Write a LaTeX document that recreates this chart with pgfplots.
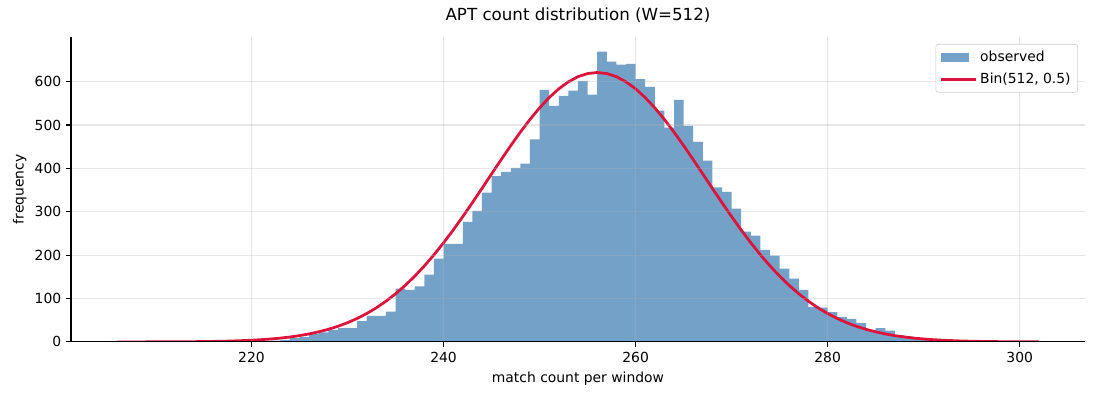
\documentclass[border=0pt]{standalone}
\usepackage{fontspec}
\setmainfont{DejaVu Sans}
\usepackage{pgfplots}
\pgfplotsset{compat=1.18}
\definecolor{barcol}{RGB}{116,161,199}
\definecolor{curvecol}{RGB}{220,20,60}
\definecolor{gridcol}{RGB}{176,176,176}
\definecolor{legcol}{RGB}{204,204,204}
\begin{document}
\begin{tikzpicture}
\path[use as bounding box] (-51.1pt,-41.8pt) rectangle (740.9pt,246.2pt);
\begin{axis}[
  at={(0,0)}, anchor=south west, scale only axis,
  width=730.1pt, height=219.6pt,
  xmin=201.2, xmax=306.8, ymin=0, ymax=703,
  axis x line*=bottom, axis y line*=left,
  axis line style={line width=0.8pt, black},
  xtick={220,240,260,280,300},
  ytick={0,100,200,300,400,500,600},
  tick align=outside, major tick length=3.5pt,
  tick style={line width=0.8pt, black},
  grid=major,
  major grid style={line width=0.8pt, gridcol, opacity=0.3},
  axis on top,
  /pgf/number format/assume math mode=true,
  ticklabel style={font=\fontsize{10}{12}\selectfont},
  xlabel={match count per window},
  ylabel={frequency},
  ylabel style={yshift=-1pt},
  label style={font=\fontsize{10}{12}\selectfont},
  title={APT count distribution (W=512)},
  title style={at={(0.5,1)}, anchor=base, yshift=6pt, inner sep=0pt, font=\fontsize{12}{14}\selectfont},
  legend style={at={(0.993,0.977)}, anchor=north east, draw=legcol, rounded corners=2pt,
    font=\fontsize{10}{12}\selectfont, fill=white,
    inner xsep=3pt, inner ysep=3pt, row sep=2.5pt,
    nodes={inner xsep=2pt}},
  legend cell align=left,
]
\addplot[ybar interval, fill=barcol, draw=none,
  legend image code/.code={\fill[barcol, sharp corners] (0pt,-3.5pt) rectangle (20pt,3.5pt); \path (0pt,0pt) -- (25pt,0pt);}]
coordinates {
(221,1) (222,3) (223,5) (224,9) (225,11) (226,18) (227,22) (228,28) (229,32) (230,32)
(231,48) (232,60) (233,60) (234,70) (235,123) (236,120) (237,128) (238,155) (239,192)
(240,226) (241,226) (242,277) (243,302) (244,344) (245,382) (246,392) (247,401) (248,411)
(249,467) (250,581) (251,544) (252,567) (253,579) (254,602) (255,570) (256,669) (257,646)
(258,639) (259,641) (260,606) (261,588) (262,533) (263,494) (264,558) (265,498) (266,461)
(267,418) (268,356) (269,346) (270,307) (271,254) (272,245) (273,212) (274,199) (275,169)
(276,146) (277,120) (278,81) (279,79) (280,69) (281,57) (282,53) (283,44) (284,28)
(285,32) (286,26) (287,15) (288,12) (289,7) (290,4) (291,2) (292,1) (293,1)
};
\addlegendentry{observed}
\addplot[curvecol, line width=2pt, mark=none,
  legend image code/.code={\draw[curvecol, line width=2pt, sharp corners] (0pt,0pt) -- (20pt,0pt); \path (0pt,0pt) -- (25pt,0pt);}]
coordinates {
(206,0.04) (208,0.08) (210,0.16) (212,0.32) (214,0.63) (216,1.2) (217,1.6) (218,2.2)
(219,3.0) (220,3.9) (221,5.2) (222,6.8) (223,8.8) (224,11.4) (225,14.5) (226,18.5)
(227,23.3) (228,29.0) (229,36.0) (230,44.3) (231,54.1) (232,65.5) (233,78.6) (234,93.8)
(235,110.9) (236,130.2) (237,151.6) (238,175.2) (239,200.8) (240,228.5) (241,257.9)
(242,288.8) (243,320.9) (244,353.8) (245,387.1) (246,420.2) (247,452.6) (248,483.6)
(249,512.8) (250,539.5) (251,563.2) (252,583.4) (253,599.5) (254,611.4) (255,618.6)
(256,621) (257,618.6) (258,611.4) (259,599.5) (260,583.4) (261,563.2) (262,539.5)
(263,512.8) (264,483.6) (265,452.6) (266,420.2) (267,387.1) (268,353.8) (269,320.9)
(270,288.8) (271,257.9) (272,228.5) (273,200.8) (274,175.2) (275,151.6) (276,130.2)
(277,110.9) (278,93.8) (279,78.6) (280,65.5) (281,54.1) (282,44.3) (283,36.0)
(284,29.0) (285,23.3) (286,18.5) (287,14.5) (288,11.4) (289,8.8) (290,6.8) (291,5.2)
(292,3.9) (293,3.0) (294,2.2) (295,1.6) (296,1.2) (298,0.63) (300,0.32) (302,0.16)
};
\addlegendentry{Bin(512, 0.5)}
\end{axis}
\end{tikzpicture}
\end{document}
